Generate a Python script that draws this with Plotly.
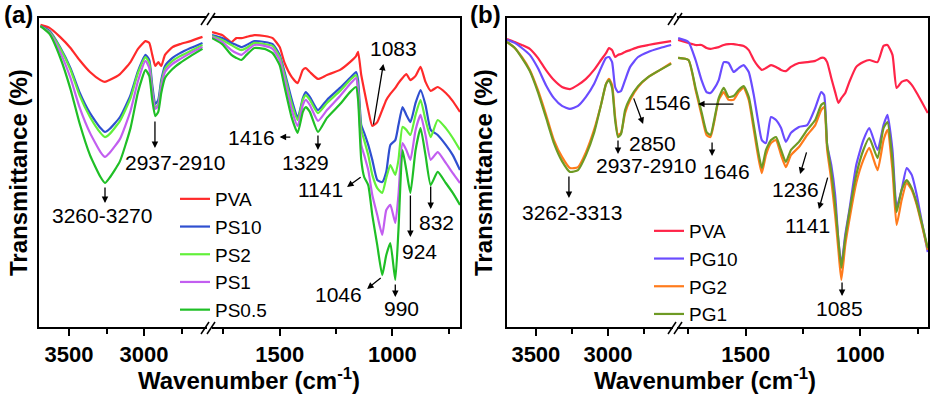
import plotly.graph_objects as go

W, H = 934, 397
FONT = "Arial, Liberation Sans, sans-serif"

# ---------------- panel (a): PVA and PS films ----------------
wn_a_high = [3690, 3630, 3560, 3490, 3430, 3360, 3290, 3260, 3230, 3160, 3090, 3040,
             2990, 2965, 2945, 2925, 2905, 2885, 2860, 2810, 2760, 2690, 2610]
pva_a_high = [97.7, 96.7, 93.7, 90, 86, 82, 79.3, 78.7, 79.3, 81.3, 85.3, 89.7,
              92.3, 91.7, 87.7, 84, 85.3, 84, 87.7, 90.3, 91.3, 92.3, 93.7]
ps10_a_high = [97.3, 95.7, 90.3, 83.3, 75.3, 68.3, 63.3, 62, 63, 67, 74.3, 82.3,
               87.7, 86, 77.7, 71.3, 72.7, 79.3, 84, 86.7, 88.3, 90, 91.7]
ps2_a_high = [97.3, 95.3, 90, 82.7, 74.3, 67, 61.7, 60.3, 61.3, 65.7, 73.3, 81.7,
              87, 85, 76, 70, 71.3, 78.3, 83, 85.7, 87.3, 89, 91]
ps1_a_high = [97.3, 95, 88.7, 80, 70.3, 61.7, 55.3, 53.7, 55, 59.7, 69, 79,
              85.7, 83.3, 75.3, 69.7, 70.7, 77, 82, 84.7, 86.3, 88.3, 90.3]
ps05_a_high = [97.3, 94.7, 87, 76.3, 65, 54.3, 47, 45, 46.7, 52.3, 63.3, 75.3,
               82.7, 80.7, 72.7, 67.3, 68.7, 75, 80, 83, 85, 87.3, 89.7]

wn_a_low = [1800, 1755, 1714, 1692, 1670, 1647, 1612, 1567, 1531, 1500, 1478, 1446,
            1420, 1397, 1384, 1366, 1330, 1290, 1232, 1188, 1161, 1152, 1138, 1125,
            1107, 1089, 1067, 1045, 1027, 1009, 987, 973, 955, 938, 920, 897, 875,
            853, 830, 799, 763, 732, 700]
pva_a_low = [95.3, 94.3, 92, 93.3, 93.3, 93.7, 94.3, 94, 93.3, 90.3, 85, 80.3,
             78.3, 82.7, 83.3, 82, 79.7, 81, 82.7, 85.3, 87.3, 88.7, 81, 76,
             69.3, 64, 65.3, 69.3, 72.7, 74.7, 76.7, 78.3, 80, 81.3, 79.3, 80.7, 83.7,
             78.7, 75.7, 77, 75, 72.3, 68.7]
ps10_a_low = [94.3, 93.3, 91.7, 91, 90.3, 91, 92.3, 92, 91.3, 87.7, 82, 72.7,
              66.7, 73.3, 75.3, 73.7, 69.3, 72.7, 76.7, 80, 82, 79.3, 64.3, 61.7,
              57.7, 52.7, 46, 45.3, 48.7, 57.7, 59.3, 64.3, 70.3, 67.7, 65.3, 71.7, 76,
              71, 62.7, 61, 57.7, 54.3, 49.3]
ps2_a_low = [94, 92.7, 91, 90, 89.3, 90, 91.7, 91.3, 90.7, 87, 81, 71.3,
             66, 72.7, 74.3, 72.7, 68.3, 71.7, 75.7, 79.3, 81, 76.7, 62.7, 59.3,
             54.3, 47.7, 43.3, 41.7, 46.7, 51, 47.7, 52.7, 63.7, 62.7, 61, 67.7, 72.7,
             66, 60.3, 66, 63.3, 60, 56]
ps1_a_low = [93.7, 92, 89.3, 88.3, 87.7, 89, 91, 90.7, 89.7, 86, 79.3, 69.3,
             64, 71, 72.7, 71, 65.7, 69.3, 74, 78, 80, 75.3, 57.7, 54.3,
             49.3, 41, 34.3, 27.7, 36, 37.7, 31.7, 41, 58.3, 56, 52.7, 62.7, 67.7,
             61, 52.7, 55.3, 51.7, 48.3, 45]
ps05_a_low = [93.3, 91.3, 87.7, 86.7, 86, 87.7, 90, 89.7, 88.3, 84.3, 77, 66.7,
              61.7, 68.7, 70.3, 68.7, 62, 66.7, 71.3, 75.3, 77, 72.7, 52.7, 47,
              44.3, 34.3, 24.3, 14.3, 21, 25, 12.7, 29.3, 56, 49.3, 41.7, 56, 63.3,
              54.3, 44.3, 48.7, 45, 41.7, 37.7]

# ---------------- panel (b): PVA and PG films ----------------
wn_b_high = [3700, 3646, 3597, 3542, 3486, 3431, 3375, 3319, 3264, 3208, 3153, 3097,
             3049, 3014, 2993, 2972, 2951, 2931, 2910, 2882, 2847, 2792, 2722, 2639, 2563]
pva_b_high = [93, 92, 91, 89.7, 86.7, 82.7, 79.3, 77, 76.3, 77.7, 79.7, 82.7,
              86, 88.3, 90, 89.3, 87, 87.7, 88, 88.7, 89.3, 90.3, 91, 91.7, 92.3]
pg10_b_high = [92.7, 91.7, 90, 87.7, 83.3, 77.7, 73.3, 70.7, 69.7, 70.7, 73.7, 78,
               83.3, 86.7, 87, 85.3, 77, 75.3, 75.7, 79.3, 83.7, 87, 88.7, 90, 91]
pg2_b_high = [92, 90, 87, 82.7, 76, 68, 59.3, 53.7, 50, 50.3, 55.3, 62.7,
              71, 78, 79.7, 77.7, 67, 61, 61.7, 68.3, 72.7, 77, 80.3, 82.7, 85]
pg1_b_high = [92, 90, 86.7, 82.3, 75.3, 67, 58.3, 52.3, 48.7, 49.3, 54.3, 61.7,
              71, 78, 79.3, 76.7, 66, 60.3, 61.3, 69.3, 73.3, 77.3, 80.3, 82.7, 84.7]

wn_b_low = [1795, 1750, 1719, 1693, 1671, 1654, 1636, 1618, 1596, 1575, 1553, 1531,
            1509, 1487, 1465, 1447, 1430, 1412, 1390, 1368, 1346, 1325, 1303, 1268,
            1232, 1197, 1171, 1158, 1145, 1127, 1110, 1096, 1083, 1066, 1048, 1018,
            987, 961, 925, 899, 882, 860, 842, 820, 798, 776, 754, 732, 706]
pva_b_low = [92.7, 91.7, 91, 91, 90, 89.7, 90, 90.3, 91, 91.3, 91.3, 91,
             90.7, 89.3, 86, 84, 82.7, 83.3, 84.3, 83.7, 82.7, 82.3, 83.7, 85,
             85.3, 85.7, 86.7, 86.7, 85.3, 80, 75.3, 71.7, 73.3, 75, 78.7, 83.7,
             85.3, 86, 85.3, 90.7, 91, 87.7, 76.7, 78.7, 79.3, 77.7, 75, 72, 68.3]
pg10_b_low = [93.3, 92, 86, 79.3, 75.3, 75, 76.7, 79.3, 85.3, 85, 82, 83.3,
              84.3, 82, 74.3, 66, 59.3, 58.3, 67, 66, 63.3, 58.7, 61.7, 63.7,
              64.3, 70, 75.3, 74.3, 57.7, 51, 41, 26, 17.7, 27.7, 36, 51,
              59.3, 63.3, 56, 64.3, 67.7, 56, 37, 42.7, 50, 47.7, 41, 32, 22]
pg2_b_low = [86.7, 86, 76, 67.7, 61, 60.3, 66, 72.7, 75.3, 72.7, 72.7, 75.3,
             76.7, 72.7, 62.7, 54.3, 48.3, 54.3, 58.3, 59.3, 54.3, 50.3, 54.3, 57,
             61, 64.3, 69.3, 70.3, 56, 46, 34.3, 22.7, 12.7, 24.3, 32.7, 45,
             52.7, 56.7, 49.3, 59.3, 62.7, 49.3, 31, 39.3, 45, 42.7, 37.7, 31, 22.7]
pg1_b_low = [86.7, 86, 76.7, 68.7, 62, 61, 66.7, 73.3, 76.7, 73.7, 74, 76,
             77.3, 73.7, 64.3, 56, 50, 56, 59.3, 60.3, 56, 52, 56, 58.7,
             62.7, 66, 71, 71.7, 57.7, 48.7, 37.7, 26, 16.7, 26.7, 35.3, 47.7,
             56, 60, 53.3, 63.3, 65.3, 52.7, 35.3, 42.7, 46, 43.3, 38.3, 31.7, 23.3]

series_a = [
    ("PVA", "#ff2a2a", pva_a_high, pva_a_low),
    ("PS10", "#2f4fd0", ps10_a_high, ps10_a_low),
    ("PS2", "#62f03a", ps2_a_high, ps2_a_low),
    ("PS1", "#c25ef0", ps1_a_high, ps1_a_low),
    ("PS0.5", "#1fbf26", ps05_a_high, ps05_a_low),
]
series_b = [
    ("PVA", "#ff2448", pva_b_high, pva_b_low),
    ("PG10", "#6a4cff", pg10_b_high, pg10_b_low),
    ("PG2", "#ff7b1c", pg2_b_high, pg2_b_low),
    ("PG1", "#6e9a24", pg1_b_high, pg1_b_low),
]

# peak labels: text, x, y, axis
labels_a = [("3260-3270", 3280, 34.3, "x"), ("2937-2910", 2793, 51.7, "x"),
            ("1416", 1625, 60.3, "x2"), ("1329", 1384, 51.7, "x2"),
            ("1141", 1317, 42.7, "x2"), ("1083", 996, 89.7, "x2"),
            ("1046", 1241, 7.7, "x2"), ("990", 960, 3.3, "x2"),
            ("924", 880, 22.3, "x2"), ("832", 804, 32, "x2")]
labels_b = [("3262-3313", 3250, 35.3, "x3"), ("2937-2910", 2736, 51, "x3"),
            ("2850", 2694, 58.3, "x3"), ("1546", 2590, 71.7, "x3"),
            ("1646", 1586, 49, "x4"), ("1236", 1285, 42.7, "x4"),
            ("1141", 1229, 31, "x4"), ("1085", 1089, 3.3, "x4")]
# arrows: head x, head y, tail x, tail y, axis
arrows_a = [(3260, 38.3, 3260, 44, "x"), (2927, 56.7, 2927, 66, "x"),
            (1500, 60.3, 1446, 60.3, "x2"), (1330, 56, 1330, 61.3, "x2"),
            (1201, 43.7, 1134, 47.3, "x2"), (1040, 84.7, 1085, 64, "x2"),
            (1112, 9.7, 1045, 13.7, "x2"), (987, 7, 987, 11.7, "x2"),
            (920, 27, 920, 41.3, "x2"), (830, 36.3, 830, 44.3, "x2")]
arrows_b = [(3271, 40, 3271, 47.7, "x3"), (2931, 54.7, 2931, 59.7, "x3"),
            (2757, 64.7, 2826, 73.7, "x3"), (1708, 71.3, 1547, 71.3, "x4"),
            (1647, 54, 1647, 59, "x4"), (1263, 48, 1233, 55.7, "x4"),
            (1181, 36.3, 1141, 47.3, "x4"), (1080, 7.3, 1080, 12.3, "x4")]


def px(x):
    return x / W


def py(y):
    return 1 - y / H


fig = go.Figure()


def add_panel(series, wn_high, wn_low, xa_high, xa_low, legend):
    for name, color, hi, lo in series:
        fig.add_trace(go.Scatter(x=wn_high, y=hi, xaxis=xa_high, yaxis=xa_high.replace("x", "y"),
                                 mode="lines", name=name, legendgroup=legend + name,
                                 legend=legend, line=dict(color=color, width=2.2, shape="spline",
                                                          smoothing=0.5)))
        fig.add_trace(go.Scatter(x=wn_low, y=lo, xaxis=xa_low, yaxis=xa_low.replace("x", "y"),
                                 mode="lines", name=name, legendgroup=legend + name,
                                 legend=legend, showlegend=False,
                                 line=dict(color=color, width=2.2, shape="spline", smoothing=0.5)))


add_panel(series_a, wn_a_high, wn_a_low, "x", "x2", "legend")
add_panel(series_b, wn_b_high, wn_b_low, "x3", "x4", "legend2")

ydom = [py(327), py(18)]
tickfont = dict(family=FONT, size=22, color="black", weight="bold")


def xaxis(dom, rng, anchor):
    return dict(domain=[px(dom[0]), px(dom[1])], range=rng, anchor=anchor, automargin=False,
                showline=True, mirror=True, linecolor="black", linewidth=1.5,
                showgrid=False, zeroline=False, ticks="outside", ticklen=7,
                tickwidth=1.5, tickcolor="black", tickmode="linear", tick0=0, dtick=500,
                minor=dict(dtick=250, ticks="outside", ticklen=5, tickwidth=1.5,
                           tickcolor="black", showgrid=False),
                tickfont=tickfont, ticklabelstandoff=0)


def yaxis(anchor, side):
    return dict(domain=ydom, range=[-3, 100], anchor=anchor, side=side, showline=True,
                automargin=False, linecolor="black", linewidth=1.5, showgrid=False,
                zeroline=False, ticks="", showticklabels=False)


legend_style = dict(xanchor="left", yanchor="top", font=dict(family=FONT, size=19),
                    bgcolor="rgba(0,0,0,0)", tracegroupgap=0, itemwidth=30)

fig.update_layout(
    template="none",
    width=W, height=H, autosize=False,
    margin=dict(l=0, r=0, t=0, b=0, pad=0),
    paper_bgcolor="white", plot_bgcolor="white",
    font=dict(family=FONT, color="black"),
    xaxis=xaxis((39, 207), [3700, 2580], "y"),
    xaxis2=xaxis((212, 460), [1800, 700], "y2"),
    xaxis3=xaxis((507, 673), [3700, 2550], "y3"),
    xaxis4=xaxis((677, 928), [1800, 705], "y4"),
    yaxis=yaxis("x", "left"),
    yaxis2=yaxis("x2", "right"),
    yaxis3=yaxis("x3", "left"),
    yaxis4=yaxis("x4", "right"),
    legend=dict(x=px(175), y=py(180), **legend_style),
    legend2=dict(x=px(649), y=py(212), **legend_style),
)

ann = []
for labels in (labels_a, labels_b):
    for text, x, y, xa in labels:
        ann.append(dict(text=text, x=x, y=y, xref=xa, yref=xa.replace("x", "y"),
                        xanchor="center", yanchor="middle", showarrow=False,
                        font=dict(family=FONT, size=21, color="black")))
for arrows in (arrows_a, arrows_b):
    for hx, hy, tx, ty, xa in arrows:
        ya = xa.replace("x", "y")
        ann.append(dict(text="", x=hx, y=hy, ax=tx, ay=ty, xref=xa, yref=ya,
                        axref=xa, ayref=ya, showarrow=True, arrowhead=2, arrowsize=1,
                        arrowwidth=1.3, arrowcolor="black"))

bold = dict(family=FONT, size=24, color="black", weight="bold")
titles = [("(a)", 18, 15, 0), ("(b)", 485, 15, 0),
          ("Transmittance (%)", 18, 173, -90), ("Transmittance (%)", 483, 173, -90),
          ("Wavenumber (cm<sup>-1</sup>)", 249, 379, 0),
          ("Wavenumber (cm<sup>-1</sup>)", 705, 379, 0)]
for text, x, y, angle in titles:
    ann.append(dict(text=text, x=px(x), y=py(y), xref="paper", yref="paper",
                    xanchor="center", yanchor="middle", textangle=angle,
                    showarrow=False, font=bold))
fig.update_layout(annotations=ann)

# axis-break marks "//" on top and bottom frame lines
shapes = []
for xb in (201, 668):
    for yb in (25, 334):
        for dx in (0, 6):
            shapes.append(dict(type="line", xref="paper", yref="paper",
                               x0=px(xb + dx), y0=py(yb), x1=px(xb + dx + 8), y1=py(yb - 12),
                               line=dict(color="black", width=1.5)))
fig.update_layout(shapes=shapes)

# the page body has a default 8px margin; drop it so the figure fills the window
fig.write_html("out.html", config={"displayModeBar": False},
               post_script="document.body.style.margin = '0';")
